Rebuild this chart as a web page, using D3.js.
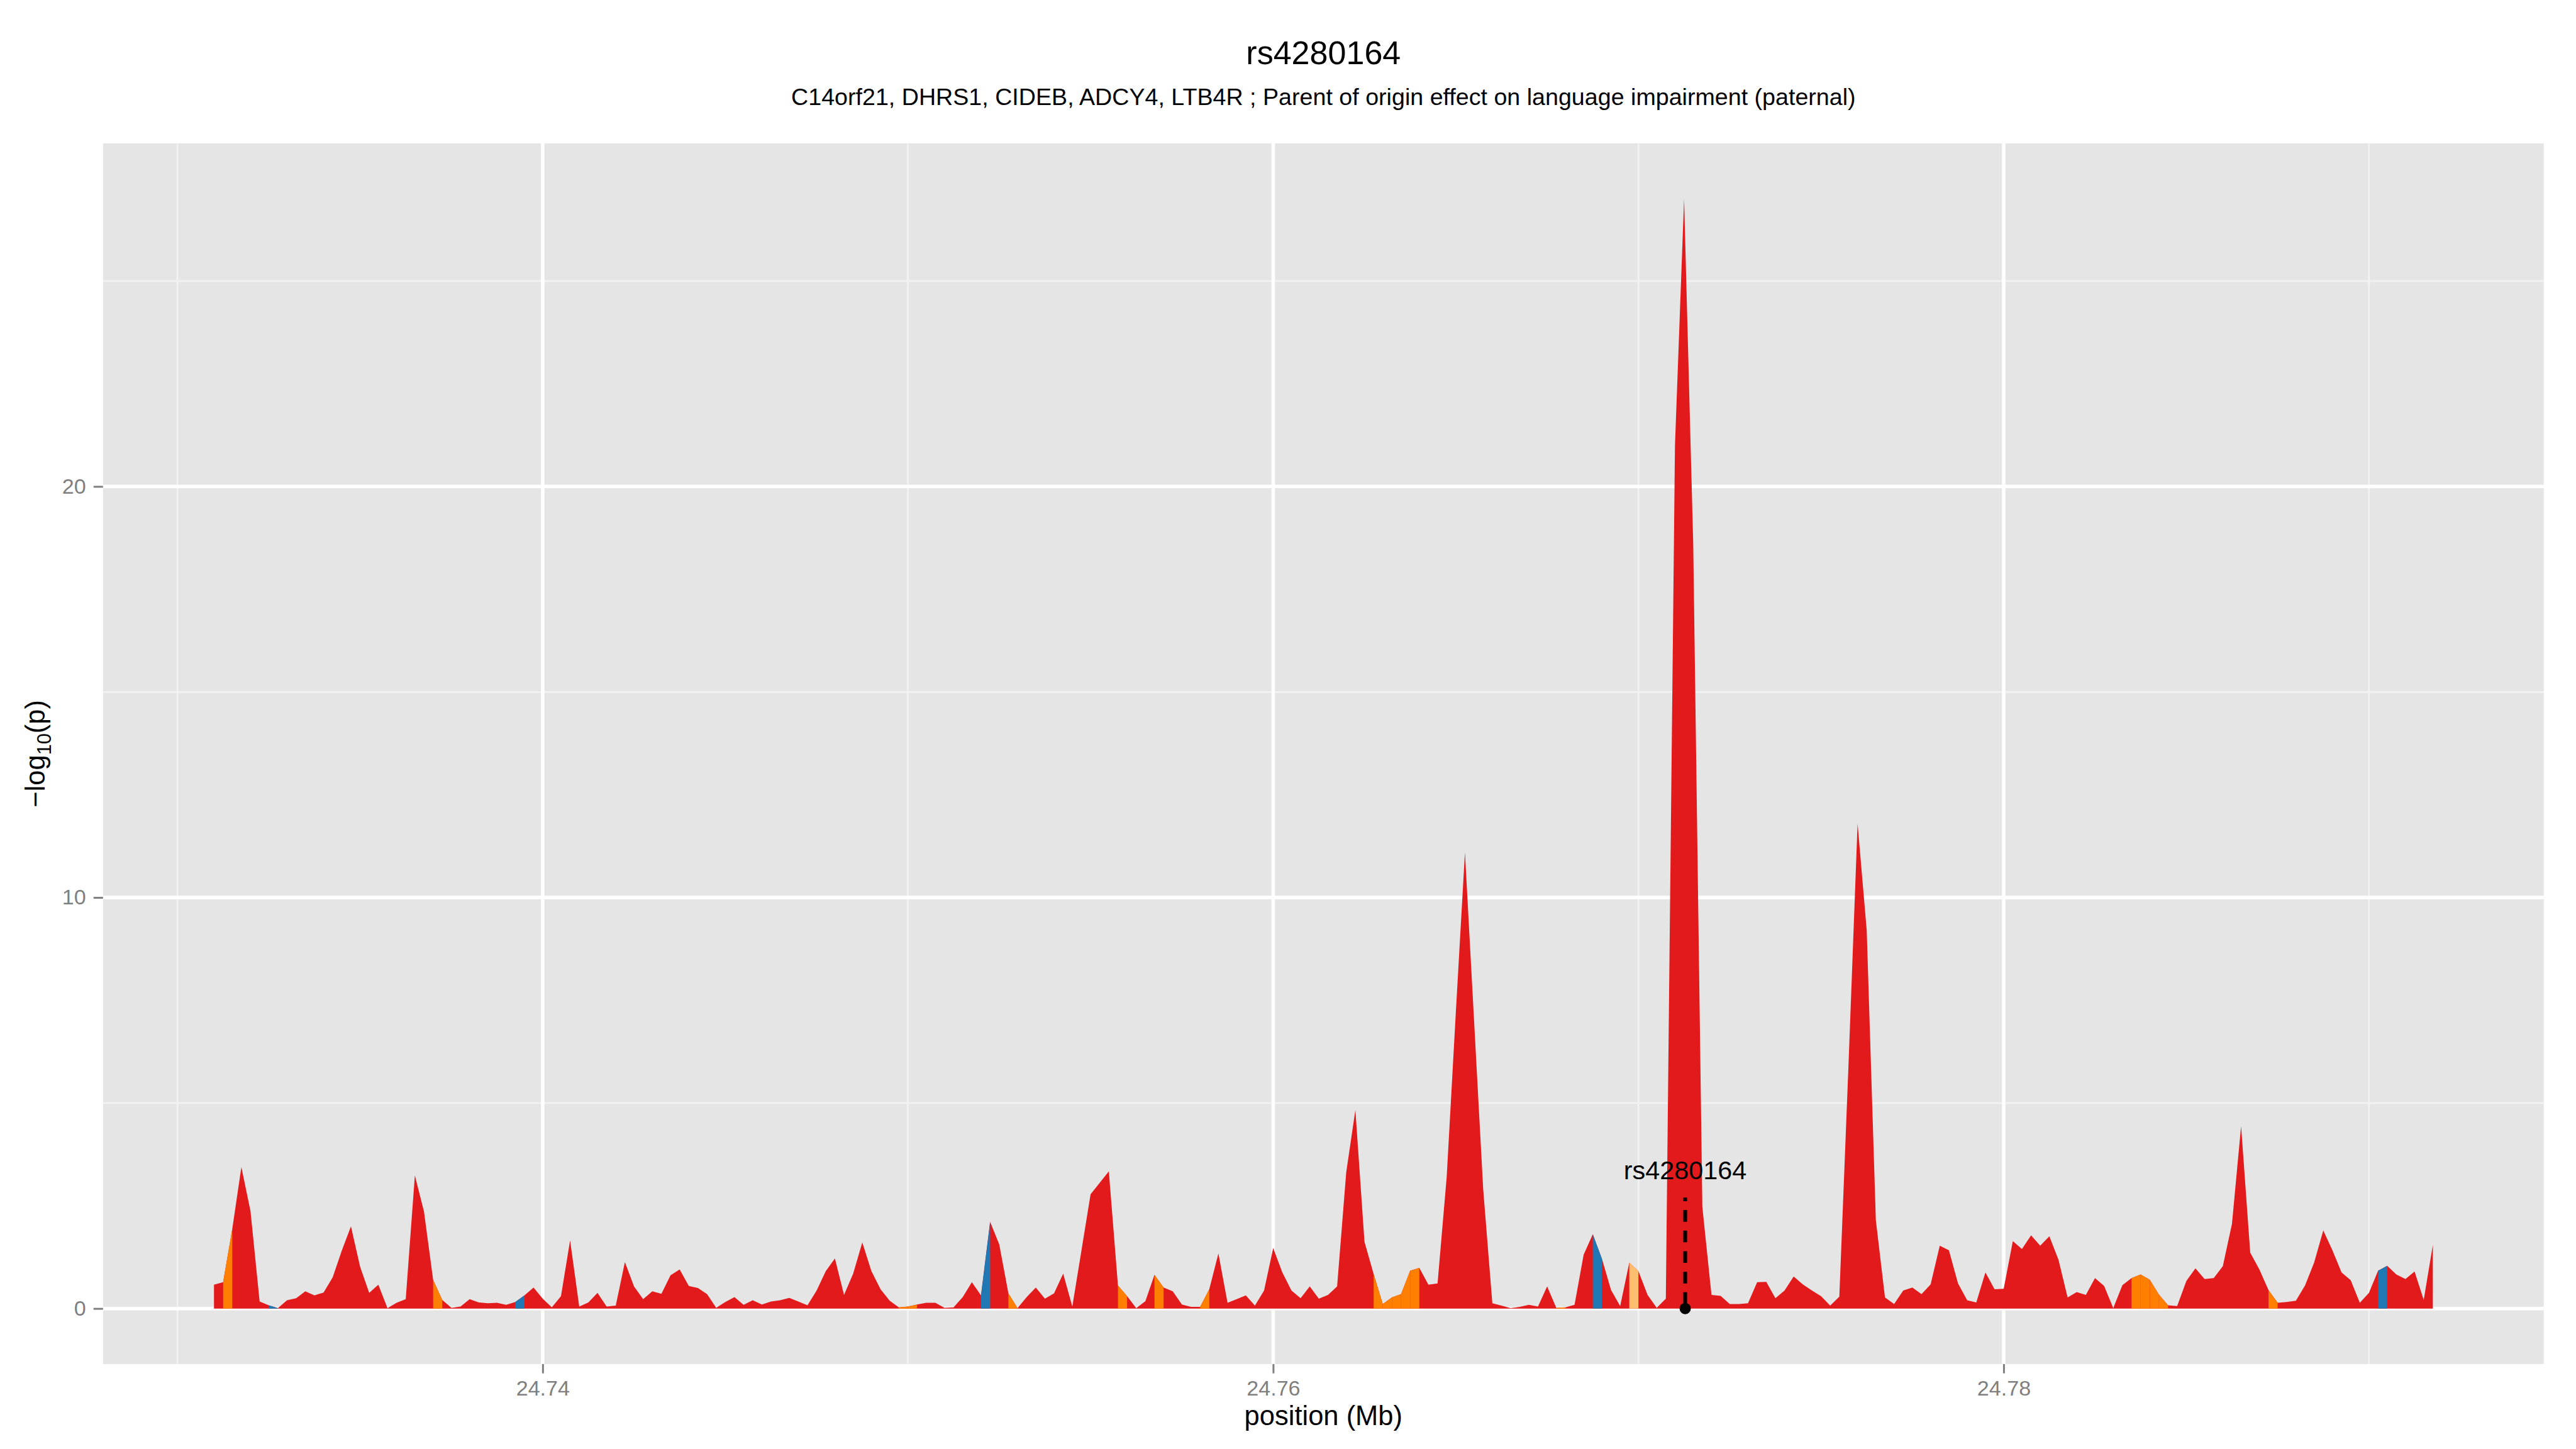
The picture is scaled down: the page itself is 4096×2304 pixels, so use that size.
<!DOCTYPE html>
<html><head><meta charset="utf-8">
<script src="https://cdn.jsdelivr.net/npm/d3@7"></script>
<style>
body{margin:0;background:#fff}
svg{display:block}
text{font-family:"Liberation Sans", Arial, Helvetica, sans-serif}
</style>
</head><body>
<script>
// ---------- DATA ----------
const positions = [
 24.73100,24.73125,24.73150,24.73175,24.73200,24.73225,24.73250,24.73275,
 24.73300,24.73325,24.73350,24.73375,24.73400,24.73425,24.73450,24.73475,
 24.73500,24.73525,24.73550,24.73575,24.73600,24.73625,24.73650,24.73675,
 24.73700,24.73725,24.73750,24.73775,24.73800,24.73825,24.73850,24.73875,
 24.73900,24.73925,24.73950,24.73975,24.74000,24.74025,24.74050,24.74075,
 24.74100,24.74125,24.74150,24.74175,24.74200,24.74225,24.74250,24.74275,
 24.74300,24.74325,24.74350,24.74375,24.74400,24.74425,24.74450,24.74475,
 24.74500,24.74525,24.74550,24.74575,24.74600,24.74625,24.74650,24.74675,
 24.74700,24.74725,24.74750,24.74775,24.74800,24.74825,24.74850,24.74875,
 24.74900,24.74925,24.74950,24.74975,24.75000,24.75025,24.75050,24.75075,
 24.75100,24.75125,24.75150,24.75175,24.75200,24.75225,24.75250,24.75275,
 24.75300,24.75325,24.75350,24.75375,24.75400,24.75425,24.75450,24.75475,
 24.75500,24.75525,24.75550,24.75575,24.75600,24.75625,24.75650,24.75675,
 24.75700,24.75725,24.75750,24.75775,24.75800,24.75825,24.75850,24.75875,
 24.75900,24.75925,24.75950,24.75975,24.76000,24.76025,24.76050,24.76075,
 24.76100,24.76125,24.76150,24.76175,24.76200,24.76225,24.76250,24.76275,
 24.76300,24.76325,24.76350,24.76375,24.76400,24.76425,24.76450,24.76475,
 24.76500,24.76525,24.76550,24.76575,24.76600,24.76625,24.76650,24.76675,
 24.76700,24.76725,24.76750,24.76775,24.76800,24.76825,24.76850,24.76875,
 24.76900,24.76925,24.76950,24.76975,24.77000,24.77025,24.77050,24.77075,
 24.77100,24.77125,24.77150,24.77175,24.77200,24.77225,24.77250,24.77275,
 24.77300,24.77325,24.77350,24.77375,24.77400,24.77425,24.77450,24.77475,
 24.77500,24.77525,24.77550,24.77575,24.77600,24.77625,24.77650,24.77675,
 24.77700,24.77725,24.77750,24.77775,24.77800,24.77825,24.77850,24.77875,
 24.77900,24.77925,24.77950,24.77975,24.78000,24.78025,24.78050,24.78075,
 24.78100,24.78125,24.78150,24.78175,24.78200,24.78225,24.78250,24.78275,
 24.78300,24.78325,24.78350,24.78375,24.78400,24.78425,24.78450,24.78475,
 24.78500,24.78525,24.78550,24.78575,24.78600,24.78625,24.78650,24.78675,
 24.78700,24.78725,24.78750,24.78775,24.78800,24.78825,24.78850,24.78875,
 24.78900,24.78925,24.78950,24.78975,24.79000,24.79025,24.79050,24.79075,
 24.79100,24.79125,24.79150,24.79175
];
const logP = [
 0.58,0.64,1.93,3.44,2.37,0.17,0.08,0.01,0.20,0.25,
 0.42,0.32,0.39,0.76,1.41,2.00,1.02,0.38,0.58,0.01,
 0.14,0.23,3.24,2.36,0.70,0.21,0.02,0.05,0.23,0.15,
 0.13,0.14,0.09,0.16,0.32,0.51,0.24,0.03,0.30,1.66,
 0.05,0.15,0.38,0.05,0.07,1.13,0.54,0.23,0.42,0.36,
 0.81,0.95,0.55,0.50,0.35,0.02,0.16,0.28,0.09,0.20,
 0.10,0.17,0.20,0.26,0.17,0.08,0.44,0.91,1.22,0.33,
 0.85,1.61,0.91,0.47,0.19,0.03,0.05,0.10,0.14,0.14,
 0.02,0.03,0.28,0.64,0.32,2.11,1.56,0.37,0.01,0.28,
 0.51,0.24,0.37,0.85,0.05,1.41,2.78,3.06,3.34,0.56,
 0.30,0.01,0.18,0.82,0.51,0.42,0.10,0.04,0.04,0.47,
 1.34,0.14,0.23,0.32,0.07,0.44,1.47,0.88,0.44,0.25,
 0.54,0.24,0.33,0.54,3.32,4.83,1.62,0.84,0.11,0.27,
 0.35,0.92,0.99,0.58,0.61,3.20,7.20,11.10,7.00,2.90,
 0.13,0.07,0.01,0.04,0.09,0.05,0.54,0.02,0.03,0.09,
 1.31,1.81,1.21,0.45,0.06,1.12,0.91,0.33,0.02,0.24,
 21.0,27.0,18.6,2.47,0.33,0.31,0.11,0.11,0.13,0.64,
 0.65,0.25,0.44,0.78,0.59,0.44,0.30,0.07,0.29,5.90,
 11.8,9.2,2.15,0.27,0.11,0.44,0.51,0.35,0.59,1.53,
 1.42,0.61,0.20,0.15,0.88,0.47,0.48,1.64,1.45,1.78,
 1.53,1.76,1.19,0.27,0.40,0.33,0.74,0.55,0.01,0.57,
 0.74,0.83,0.70,0.34,0.08,0.06,0.67,0.98,0.72,0.74,
 1.03,2.06,4.44,1.36,0.95,0.45,0.14,0.16,0.19,0.56,
 1.12,1.90,1.42,0.88,0.69,0.14,0.38,0.92,1.04,0.83,
 0.72,0.90,0.21,1.55
];
// segment index k = the stretch between positions[k] and positions[k+1]
const orangeSegments = [1,24,75,76,87,99,103,108,127,128,129,130,131,147,210,211,212,213,225];
const blueSegments = [6,33,84,151,237];
const lightOrangeSegments = [155];
const xTicks = [24.74, 24.76, 24.78];
const xMinorTicks = [24.73, 24.75, 24.77, 24.79];
const yTicks = [0, 10, 20];
const yMinorTicks = [5, 15, 25];
const snpName = "rs4280164";
const snpPos = 24.77128;
const titleText = "rs4280164";
const subtitleText = "C14orf21, DHRS1, CIDEB, ADCY4, LTB4R ; Parent of origin effect on language impairment (paternal)";

// ---------- LAYOUT (reference pixels, scaled to window) ----------
const W = 4096, H = 2304, S = W / 4800;
const P = {left:192, right:4740, top:267, bottom:2541.7};
const COL = {red:"#E31A1C", orange:"#FF7F00", blue:"#1F78B4", light:"#FDBF6F"};

const svg = d3.select("body").append("svg").attr("width", W).attr("height", H);
svg.append("rect").attr("width", W).attr("height", H).attr("fill", "#fff");
const g = svg.append("g").attr("transform", `scale(${S})`);

const xExt = d3.extent(positions), xPad = (xExt[1]-xExt[0])*0.05;
const yMax = d3.max(logP), yPad = yMax*0.05;
const x = d3.scaleLinear().domain([xExt[0]-xPad, xExt[1]+xPad]).range([P.left, P.right]);
const y = d3.scaleLinear().domain([0-yPad, yMax+yPad]).range([P.bottom, P.top]);

// panel
g.append("rect").attr("x", P.left).attr("y", P.top)
  .attr("width", P.right-P.left).attr("height", P.bottom-P.top).attr("fill", "#E5E5E5");

// grid
const grid = g.append("g");
grid.selectAll(".vmin").data(xMinorTicks).enter().append("line")
  .attr("x1", d=>x(d)).attr("x2", d=>x(d)).attr("y1", P.top).attr("y2", P.bottom)
  .attr("stroke", "#F2F2F2").attr("stroke-width", 3.3);
grid.selectAll(".hmin").data(yMinorTicks).enter().append("line")
  .attr("y1", d=>y(d)).attr("y2", d=>y(d)).attr("x1", P.left).attr("x2", P.right)
  .attr("stroke", "#F2F2F2").attr("stroke-width", 3.3);
grid.selectAll(".vmaj").data(xTicks).enter().append("line")
  .attr("x1", d=>x(d)).attr("x2", d=>x(d)).attr("y1", P.top).attr("y2", P.bottom)
  .attr("stroke", "#FFFFFF").attr("stroke-width", 6.5);
grid.selectAll(".hmaj").data(yTicks).enter().append("line")
  .attr("y1", d=>y(d)).attr("y2", d=>y(d)).attr("x1", P.left).attr("x2", P.right)
  .attr("stroke", "#FFFFFF").attr("stroke-width", 6.5);

// data
const pts = positions.map((p,i)=>({pos:p, v:logP[i]}));
const area = d3.area().x(d=>x(d.pos)).y0(y(0)).y1(d=>y(d.v));
const marks = g.append("g");
marks.append("path").datum(pts).attr("d", area).attr("fill", COL.red);
const segs = [];
orangeSegments.forEach(k=>segs.push({k, c:COL.orange}));
blueSegments.forEach(k=>segs.push({k, c:COL.blue}));
lightOrangeSegments.forEach(k=>segs.push({k, c:COL.light}));
marks.selectAll(".seg").data(segs).enter().append("path")
  .attr("d", d=>area([pts[d.k], pts[d.k+1]])).attr("fill", d=>d.c);

// highlighted SNP
g.append("line").attr("x1", x(snpPos)).attr("x2", x(snpPos))
  .attr("y1", y(yMax*0.1)).attr("y2", y(0))
  .attr("stroke", "#000").attr("stroke-width", 7)
  .attr("stroke-dasharray", "21.7 16.6").attr("stroke-dashoffset", 15);
g.append("circle").attr("cx", x(snpPos)).attr("cy", y(0)).attr("r", 10.5).attr("fill", "#000");
g.append("text").attr("x", x(snpPos)).attr("y", y(yMax*0.125)).attr("dy", "0.36em")
  .attr("text-anchor", "middle").attr("font-size", 48.5).attr("fill", "#000").text(snpName);

// axes
const xAxis = g.append("g").attr("transform", `translate(0,${P.bottom})`)
  .call(d3.axisBottom(x).tickValues(xTicks).tickFormat(d3.format(".2f")).tickSize(17.3).tickPadding(12.7));
const yAxis = g.append("g").attr("transform", `translate(${P.left},0)`)
  .call(d3.axisLeft(y).tickValues(yTicks).tickFormat(d3.format("d")).tickSize(17.7).tickPadding(14));
[xAxis, yAxis].forEach(a=>{
  a.select(".domain").remove();
  a.selectAll(".tick line").attr("stroke", "#7F7F7F").attr("stroke-width", 3.5);
  a.selectAll(".tick text").attr("fill", "#7F7F7F").attr("font-size", 40)
    .attr("font-family", '"Liberation Sans", Arial, Helvetica, sans-serif');
});

// titles
const cx = (P.left+P.right)/2;
g.append("text").attr("x", cx).attr("y", 119).attr("text-anchor", "middle")
  .attr("font-size", 61).attr("fill", "#000").text(titleText);
g.append("text").attr("x", cx).attr("y", 196).attr("text-anchor", "middle")
  .attr("font-size", 44.1).attr("fill", "#000").text(subtitleText);
g.append("text").attr("x", cx).attr("y", 2655).attr("text-anchor", "middle")
  .attr("font-size", 51).attr("fill", "#000").text("position (Mb)");
const yt = g.append("text").attr("transform", `translate(83,${(P.top+P.bottom)/2}) rotate(-90)`)
  .attr("text-anchor", "middle").attr("font-size", 51).attr("fill", "#000");
yt.append("tspan").text("\u2212log");
yt.append("tspan").attr("font-size", 36).attr("dy", 12).text("10");
yt.append("tspan").attr("dy", -12).text("(p)");
</script>
</body></html>
